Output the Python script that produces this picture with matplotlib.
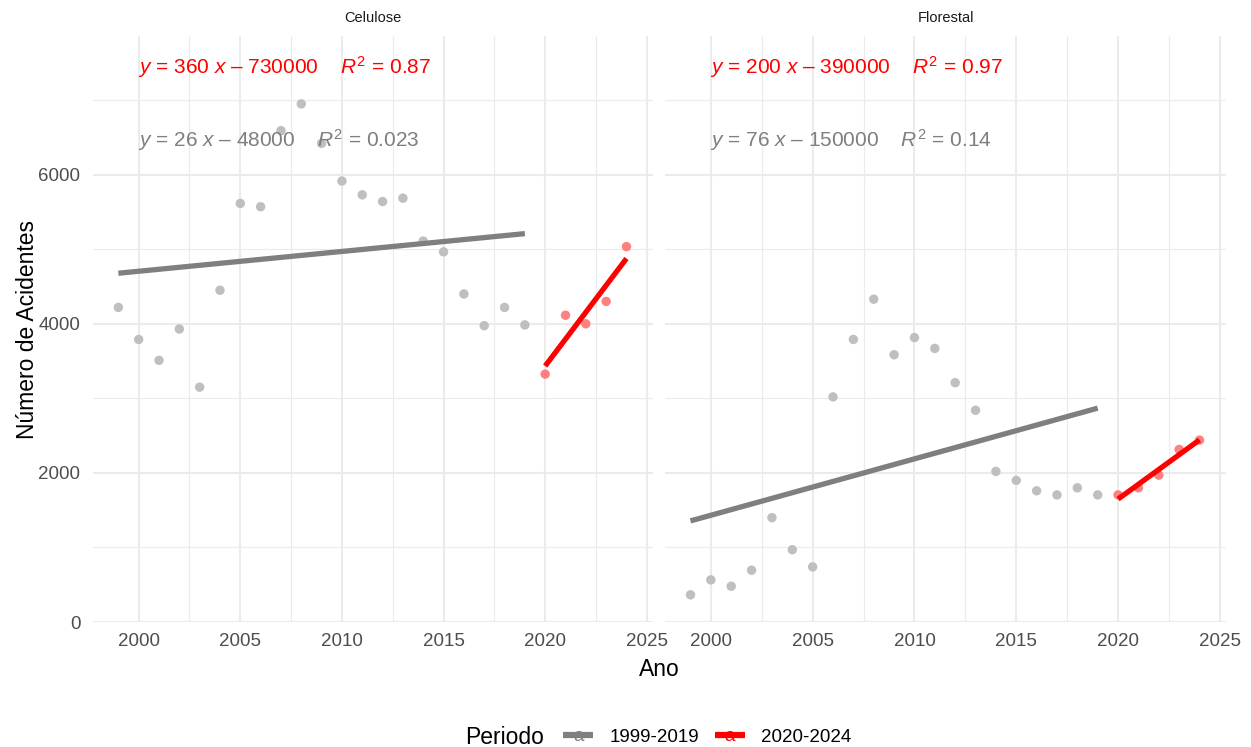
import numpy as np
import matplotlib
matplotlib.use("Agg")
import matplotlib.pyplot as plt
from matplotlib.lines import Line2D
from matplotlib.text import Text
from matplotlib.legend_handler import HandlerBase

plt.rcParams['font.family'] = ['Liberation Sans', 'DejaVu Sans']
plt.rcParams['mathtext.fontset'] = 'custom'
plt.rcParams['mathtext.rm'] = 'Liberation Sans'
plt.rcParams['mathtext.it'] = 'Liberation Sans:italic'

# dados
anos_antes = list(range(1999, 2020))
anos_depois = list(range(2020, 2025))

celulose_antes = [4220, 3790, 3510, 3930, 3150, 4450, 5615, 5570, 6590, 6950, 6420,
                  5915, 5730, 5640, 5685, 5110, 4965, 4400, 3975, 4220, 3985]
celulose_depois = [3325, 4115, 4000, 4300, 5035]
florestal_antes = [365, 565, 480, 695, 1400, 970, 740, 3020, 3790, 4330, 3585,
                   3815, 3670, 3210, 2840, 2020, 1900, 1760, 1705, 1800, 1705]
florestal_depois = [1705, 1800, 1970, 2315, 2440]

setores = ["Celulose", "Florestal"]
periodos = ["1999-2019", "2020-2024"]
cores = ["#7f7f7f", "#ff0000"]
cores_pontos = ["#bfbfbf", "#ff8080"]

eq_vermelha = ["$y$ = 360 $x$ \u2013 730000    $R^2$ = 0.87",
               "$y$ = 200 $x$ \u2013 390000    $R^2$ = 0.97"]
eq_cinza = ["$y$ = 26 $x$ \u2013 48000    $R^2$ = 0.023",
            "$y$ = 76 $x$ \u2013 150000    $R^2$ = 0.14"]

series = {
    "Celulose": [(anos_antes, celulose_antes), (anos_depois, celulose_depois)],
    "Florestal": [(anos_antes, florestal_antes), (anos_depois, florestal_depois)],
}


class ChaveTexto(HandlerBase):
    """Chave de legenda no estilo do ggplot: linha com a letra 'a'."""
    def create_artists(self, legend, orig_handle, xdescent, ydescent, width, height, fontsize, trans):
        cor = orig_handle.get_color()
        linha = Line2D([0, width], [height / 2, height / 2], color=cor, lw=4.5,
                       solid_capstyle='butt', transform=trans)
        letra = Text(width / 2, height / 2 - 1, 'a', color=cor, ha='center', va='center',
                     fontsize=fontsize, transform=trans)
        return [linha, letra]


fig = plt.figure(figsize=(12.51, 7.47), dpi=100)
eixos = [fig.add_axes([0.0743, 0.1673, 0.4476, 0.7845]),
         fig.add_axes([0.5316, 0.1673, 0.4484, 0.7845])]

for i, (ax, setor) in enumerate(zip(eixos, setores)):
    for (anos, valores), cor, cor_p in zip(series[setor], cores, cores_pontos):
        x = np.array(anos)
        y = np.array(valores)
        ax.scatter(x, y, s=46, color=cor_p, edgecolors='none', zorder=3)
        coef = np.polyfit(x, y, 1)
        ax.plot(x, np.polyval(coef, x), color=cor, lw=3.8, zorder=4, solid_capstyle='butt')

    ax.text(0.08, 0.947, eq_vermelha[i], transform=ax.transAxes, color=cores[1],
            fontsize=15, va='center', ha='left', zorder=5)
    ax.text(0.08, 0.823, eq_cinza[i], transform=ax.transAxes, color=cores[0],
            fontsize=15, va='center', ha='left', zorder=5)

    ax.set_xlim(1997.75, 2025.3)
    ax.set_ylim(0, 7860)
    ax.set_xticks([2000, 2005, 2010, 2015, 2020, 2025])
    ax.set_xticks([2002.5, 2007.5, 2012.5, 2017.5, 2022.5], minor=True)
    ax.set_yticks([0, 2000, 4000, 6000])
    ax.set_yticks([1000, 3000, 5000, 7000], minor=True)
    ax.grid(which='major', color='#ebebeb', lw=1.5)
    ax.grid(which='minor', color='#ebebeb', lw=0.8)
    ax.set_axisbelow(True)
    for s in ax.spines.values():
        s.set_visible(False)
    ax.tick_params(which='both', length=0, labelsize=13.5, labelcolor='#4d4d4d')
    ax.tick_params(axis='x', pad=8)
    ax.tick_params(axis='y', pad=9)
    ax.set_title(setor, fontsize=10.5, color='#1a1a1a', pad=10)
    if i == 1:
        ax.tick_params(axis='y', labelleft=False)

fig.text(28 / 1251, 0.5595, "Número de Acidentes", rotation=90, fontsize=16.5,
         ha='center', va='center')
fig.text(659 / 1251, 1 - 670 / 747, "Ano", fontsize=16.5, ha='center', va='center')

fig.text(505 / 1251, 1 - 737 / 747, "Periodo", fontsize=16.5, ha='center', va='center')
alcas = [Line2D([], [], color=c) for c in cores]
fig.legend(alcas, periodos, handler_map={Line2D: ChaveTexto()}, ncol=2,
           loc='center left', bbox_to_anchor=(563 / 1251, 1 - 737 / 747),
           frameon=False, fontsize=13.5, handlelength=1.6, handletextpad=0.9,
           columnspacing=0.8, borderpad=0, borderaxespad=0)

fig.savefig("out.png", dpi=100)
